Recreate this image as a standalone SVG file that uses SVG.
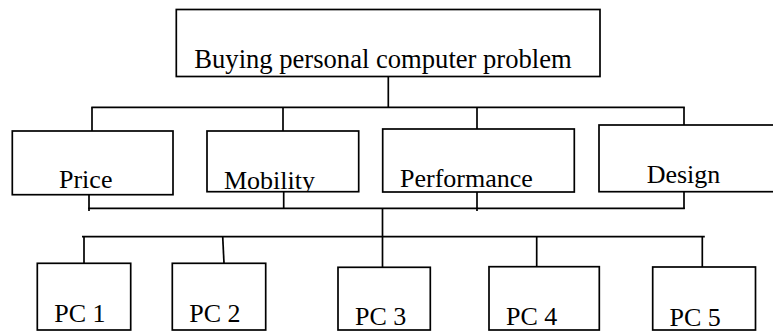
<svg xmlns="http://www.w3.org/2000/svg" width="773" height="331" viewBox="0 0 773 331">
<style>
  .box { fill: #ffffff; stroke: #000000; stroke-width: 1.7; }
  .lbl { font-family: "Liberation Serif", "Times New Roman", serif; font-size: 26px; fill: #000000; }
  .conn line { stroke: #000000; stroke-width: 1.7; }
</style>
<defs>
  <clipPath id="clipMob"><rect x="207" y="131" width="151.7" height="60.7"/></clipPath>
</defs>
<rect x="0" y="0" width="773" height="331" fill="#ffffff"/>
<g id="connectors" class="conn">
  <line x1="388.3" y1="76.5" x2="388.3" y2="107.3"/>
  <line x1="91.3" y1="107.3" x2="684.8" y2="107.3"/>
  <line x1="92" y1="107.3" x2="92" y2="131"/>
  <line x1="283" y1="107.3" x2="283" y2="131"/>
  <line x1="477" y1="107.3" x2="477" y2="129"/>
  <line x1="684" y1="107.3" x2="684" y2="125"/>
  <line x1="88.2" y1="208.3" x2="684.8" y2="208.3"/>
  <line x1="89" y1="194.7" x2="89" y2="211"/>
  <line x1="283.7" y1="191.7" x2="283.7" y2="208.3"/>
  <line x1="477" y1="192" x2="477" y2="211"/>
  <line x1="684" y1="191.7" x2="684" y2="209"/>
  <line x1="382.5" y1="208.3" x2="382.5" y2="267.5"/>
  <line x1="82" y1="236.7" x2="704.8" y2="236.7"/>
  <line x1="84" y1="236.7" x2="84" y2="263.3"/>
  <line x1="222.7" y1="236.7" x2="224" y2="263.3"/>
  <line x1="536.7" y1="236.7" x2="536.7" y2="266.7"/>
  <line x1="702.3" y1="236.7" x2="702.3" y2="267"/>
</g>
<g id="root">
  <rect class="box" x="176.3" y="9.5" width="423.7" height="67"/>
  <text class="lbl" x="194.3" y="67.5" style="font-size:26.6px">Buying personal computer problem</text>
</g>
<g id="price">
  <rect class="box" x="12.3" y="131" width="160.7" height="63.7"/>
  <text class="lbl" x="59" y="188.3">Price</text>
</g>
<g id="mobility">
  <rect class="box" x="207" y="131" width="151.7" height="60.7"/>
  <text class="lbl" x="224" y="189.3" clip-path="url(#clipMob)">Mobility</text>
</g>
<g id="performance">
  <rect class="box" x="382.7" y="129" width="191.6" height="63"/>
  <text class="lbl" x="400" y="187.3">Performance</text>
</g>
<g id="design">
  <rect class="box" x="599" y="125" width="185" height="66.7"/>
  <text class="lbl" x="646.7" y="183.3">Design</text>
</g>
<g id="pc1">
  <rect class="box" x="37.3" y="263.3" width="93.4" height="66.7"/>
  <text class="lbl" x="54.3" y="321.7">PC 1</text>
</g>
<g id="pc2">
  <rect class="box" x="172.3" y="263.3" width="93.4" height="66.7"/>
  <text class="lbl" x="189.3" y="322">PC 2</text>
</g>
<g id="pc3">
  <rect class="box" x="338" y="267.3" width="92.3" height="62.7"/>
  <text class="lbl" x="355" y="325.3">PC 3</text>
</g>
<g id="pc4">
  <rect class="box" x="489" y="266.7" width="110.3" height="63.3"/>
  <text class="lbl" x="506" y="324.7">PC 4</text>
</g>
<g id="pc5">
  <rect class="box" x="652.7" y="267" width="102.8" height="63"/>
  <text class="lbl" x="669.5" y="326.3">PC 5</text>
</g>
</svg>
